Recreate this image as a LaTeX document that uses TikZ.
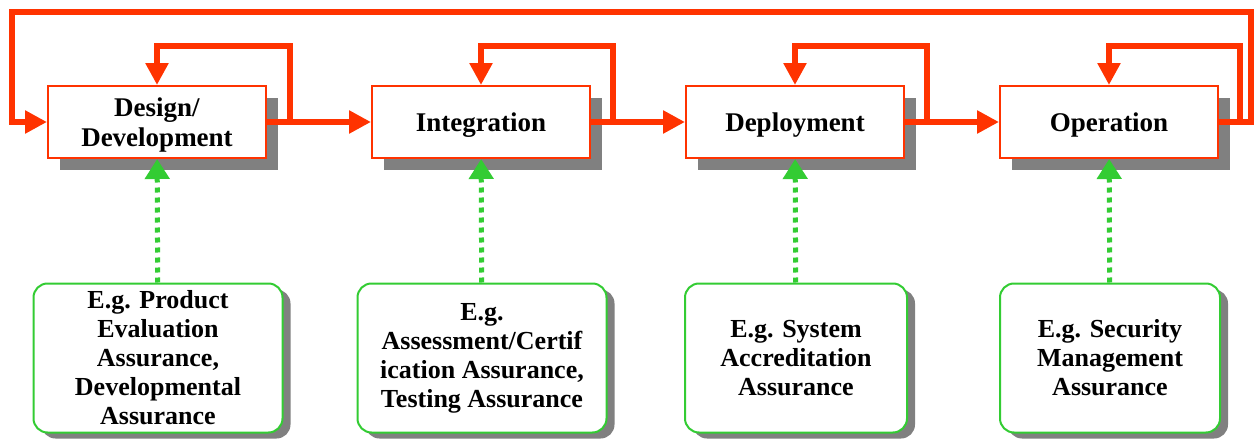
\documentclass[tikz,border=0pt]{standalone}
\usepackage{fontspec}
\setmainfont{Liberation Serif}
\usepackage{tikz}
\usetikzlibrary{arrows.meta,shadows}
\definecolor{flowred}{RGB}{255,51,0}
\definecolor{assgreen}{RGB}{51,204,51}
\tikzset{>={Triangle[length=11pt,width=11pt]}}
\tikzset{
  stage/.style={draw=flowred,line width=1pt,fill=white,minimum width=109pt,minimum height=36pt,
    align=center,text depth=0pt,font=\fontsize{13.5}{15}\selectfont\bfseries,
    drop shadow={shadow xshift=6pt,shadow yshift=-6pt,fill=black!50,opacity=1}},
  assure/.style={draw=assgreen,line width=1pt,fill=white,rounded corners=7pt,minimum height=74.5pt,
    align=center,font=\fontsize{13}{14.5}\selectfont\bfseries,
    drop shadow={shadow xshift=4pt,shadow yshift=-3pt,fill=black!50,opacity=1}},
  flow/.style={draw=flowred,line width=3.2pt},
  feed/.style={draw=assgreen,line width=2.5pt,dash pattern=on 2.5pt off 2.5pt,
    -{Triangle[length=10pt,width=12pt,fill=assgreen]}}
}

\begin{document}
\begin{tikzpicture}[x=0.5pt,y=-0.5pt]
            \useasboundingbox (0,0) rectangle (1255,439);
            \node[stage] (des) at (157,122) {Design/\\Development};
            \node[stage] (int) at (481,122) {Integration};
            \node[stage] (dep) at (795,122) {Deployment};
            \node[stage] (ope) at (1109,122) {Operation};
            \node[assure,minimum width=124.5pt] (a1) at (158,358) {E.g. Product\\Evaluation\\Assurance,\\Developmental\\Assurance};
            \node[assure,minimum width=124.5pt] (a2) at (482,358) {E.g.\\Assessment/Certif\\ication Assurance,\\Testing Assurance};
            \node[assure,minimum width=111pt] (a3) at (796,358) {E.g. System\\Accreditation\\Assurance};
            \node[assure,minimum width=110pt] (a4) at (1110,358) {E.g. Security\\Management\\Assurance};
            \coordinate (l1) at (290,46);
            \coordinate (l2) at (613,46);
            \coordinate (l3) at (927,46);
            \coordinate (l4) at (1240,46);
            \coordinate (ur) at (1251,12);
            \coordinate (ul) at (12,12);
            \draw[flow,->] (des.east) -- (int.west);
            \draw[flow,->] (int.east) -- (dep.west);
            \draw[flow,->] (dep.east) -- (ope.west);
            \draw[flow,->] (des.east) -| (l1) -| (des.north);
            \draw[flow,->] (int.east) -| (l2) -| (int.north);
            \draw[flow,->] (dep.east) -| (l3) -| (dep.north);
            \draw[flow,->] (ope.east) -| (l4) -| (ope.north);
            \draw[flow,->] (ope.east) -| (ur) -- (ul) |- (des.west);
            \draw[feed] (a1) -- (des);
            \draw[feed] (a2) -- (int);
            \draw[feed] (a3) -- (dep);
            \draw[feed] (a4) -- (ope);
        \end{tikzpicture}
\end{document}
